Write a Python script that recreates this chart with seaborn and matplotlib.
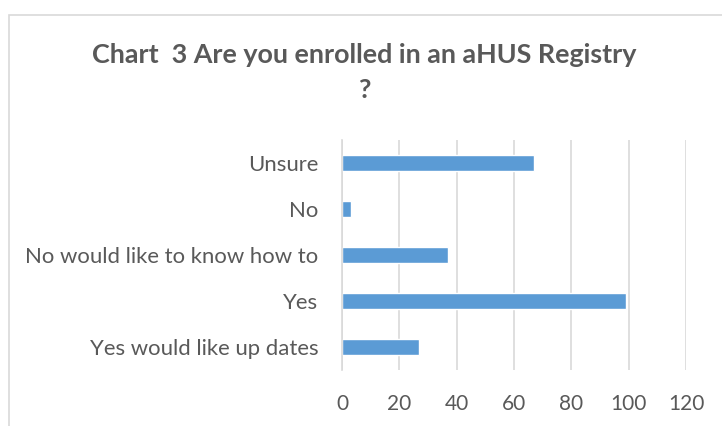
import matplotlib
matplotlib.use("Agg")
import matplotlib.pyplot as plt
import matplotlib.patches as mpatches
import seaborn as sns
import pandas as pd

# values
categories = ["Unsure", "No", "No would like to know how to", "Yes", "Yes would like up dates"]
counts = [67, 3, 37, 99, 27]
x_ticks = [0, 20, 40, 60, 80, 100, 120]

df = pd.DataFrame({"Answer": categories, "Count": counts})

sns.set_theme(style="white")
plt.rcParams["font.family"] = ["Lato", "DejaVu Sans"]

text_color = "#595959"
grid_color = "#d9d9d9"

fig = plt.figure(figsize=(7.22, 4.26), dpi=100)
ax = fig.add_axes([342 / 722, 1 - 370 / 426, (686 - 342) / 722, 230 / 426])

sns.barplot(data=df, x="Count", y="Answer", order=categories, color="#5B9BD5",
            width=0.36, saturation=1, ax=ax)

ax.set_xlim(0, 120)
ax.set_xticks(x_ticks)
ax.set_xlabel("")
ax.set_ylabel("")
ax.grid(axis="x", color=grid_color, linewidth=1.2)
ax.set_axisbelow(True)
for side in ["top", "right", "bottom"]:
    ax.spines[side].set_visible(False)
ax.spines["left"].set_color(grid_color)
ax.spines["left"].set_linewidth(1.2)
ax.tick_params(axis="x", length=0, pad=17, labelsize=15, labelcolor=text_color)
ax.tick_params(axis="y", length=0, pad=17, labelsize=15.9, labelcolor=text_color)

# outer chart border
fig.patches.append(mpatches.Rectangle((9 / 722, -0.05), 1.0, 1 - 15 / 426 + 0.05,
                                      transform=fig.transFigure, fill=False,
                                      edgecolor=grid_color, linewidth=1.2))

fig.text(364 / 722, 1 - 55 / 426, "Chart  3 Are you enrolled in an aHUS Registry",
         ha="center", va="center", fontsize=19.4, fontweight="bold", color=text_color)
fig.text(364 / 722, 1 - 90 / 426, "?", ha="center", va="center",
         fontsize=19.4, fontweight="bold", color=text_color)

fig.savefig("out.png", dpi=100)
